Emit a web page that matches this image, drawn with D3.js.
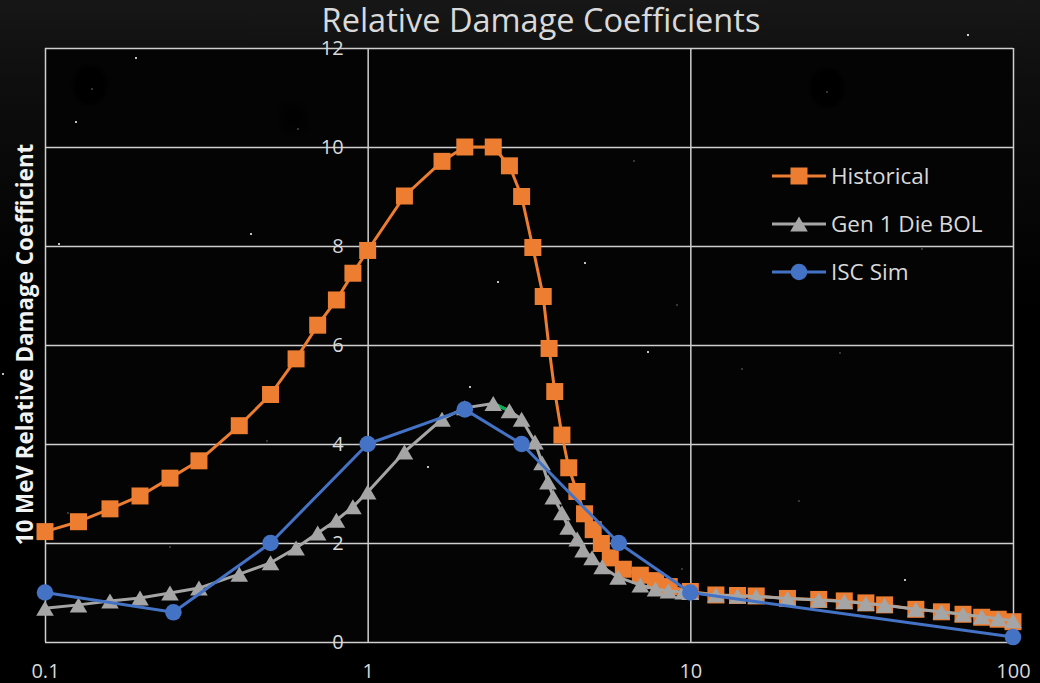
<!DOCTYPE html>
<html>
<head>
<meta charset="utf-8">
<script src="https://cdn.jsdelivr.net/npm/d3@7"></script>
<style>
  html, body { margin: 0; padding: 0; background: #000; }
  svg { display: block; }
</style>
</head>
<body>
<svg id="chart" width="1040" height="683"></svg>
<script>
// ---- Data -------------------------------------------------------------
const histEnergy = [0.1,0.127,0.159,0.197,0.244,0.3,0.4,0.5,0.6,0.7,0.8,0.9,1,1.3,1.7,2,2.45,2.75,3,3.25,3.5,3.65,3.8,4,4.2,4.45,4.7,5,5.3,5.65,6.2,7,7.8,8.6,10,12,14,16,20,25,30,35,40,50,60,70,80,90,100];
const histCoeff  = [2.23,2.43,2.69,2.95,3.31,3.66,4.37,5.0,5.72,6.4,6.91,7.45,7.91,9.01,9.71,10.0,10.0,9.62,9.0,7.97,6.98,5.93,5.06,4.18,3.52,3.04,2.59,2.27,1.99,1.70,1.47,1.35,1.24,1.12,1.02,0.95,0.94,0.93,0.88,0.86,0.83,0.79,0.75,0.66,0.61,0.56,0.5,0.46,0.41];

const genEnergy = [0.1,0.127,0.159,0.197,0.244,0.3,0.4,0.5,0.6,0.7,0.8,0.9,1,1.3,1.7,2,2.45,2.75,3,3.3,3.47,3.62,3.76,4,4.18,4.46,4.65,4.96,5.33,5.97,7,7.8,8.55,9.5,10,12,14,16,20,25,30,35,40,50,60,70,80,90,100];
const genCoeff  = [0.68,0.75,0.83,0.89,0.99,1.09,1.37,1.6,1.9,2.2,2.46,2.73,3.03,3.84,4.5,4.73,4.82,4.67,4.5,4.04,3.62,3.23,2.93,2.61,2.32,2.08,1.86,1.7,1.52,1.31,1.15,1.07,1.03,1.01,1.0,0.95,0.93,0.92,0.88,0.85,0.82,0.78,0.74,0.66,0.61,0.56,0.51,0.47,0.43];

const iscEnergy = [0.1,0.25,0.5,1,2,3,6,10,100];
const iscCoeff  = [1.0,0.6,2.0,4.0,4.7,4.0,2.0,1.0,0.1];

// short stretch of the Gen 1 curve drawn in green
const genHighlight = [2.45, 2.75];

const xTicks = [0.1, 1, 10, 100];
const xTickLabels = ["0.1", "1", "10", "100"];
const yTicks = [0, 2, 4, 6, 8, 10, 12];

const seriesNames = ["Historical", "Gen 1 Die BOL", "ISC Sim"];
const seriesColors = ["#ED7D31", "#A5A5A5", "#4472C4"];

const titleText = "Relative Damage Coefficients";
const yTitleText = "10 MeV Relative Damage Coefficient";

// ---- Layout -----------------------------------------------------------
const W = 1040, H = 683;
const plot = { left: 45, right: 1013, top: 48, bottom: 642 };
const FONT = "'Open Sans', 'Noto Sans', sans-serif";
const TEXT = "#d9d9d9";

const svg = d3.select("#chart");

const x = d3.scaleLog().domain([0.1, 100]).range([plot.left, plot.right]);
const y = d3.scaleLinear().domain([0, 12]).range([plot.bottom, plot.top]);

// background: dark gray at the top fading to black
const defs = svg.append("defs");
const bg = defs.append("linearGradient").attr("id", "bg")
  .attr("x1", 0).attr("y1", 0).attr("x2", 0).attr("y2", 1);
bg.append("stop").attr("offset", "0%").attr("stop-color", "#171717");
bg.append("stop").attr("offset", "12%").attr("stop-color", "#0e0e0e");
bg.append("stop").attr("offset", "45%").attr("stop-color", "#000");
bg.append("stop").attr("offset", "100%").attr("stop-color", "#000");
defs.append("filter").attr("id", "soft")
  .append("feGaussianBlur").attr("stdDeviation", 2);

svg.append("rect").attr("width", W).attr("height", H).attr("fill", "url(#bg)");
svg.append("rect")
  .attr("x", plot.left).attr("y", plot.top)
  .attr("width", plot.right - plot.left).attr("height", plot.bottom - plot.top)
  .attr("fill", "#040404");

// faint dark blotches and specks in the backdrop
const blotches = [[90, 85, 17, 20], [827, 88, 17, 20], [294, 118, 13, 15]];
svg.append("g").selectAll("ellipse").data(blotches).join("ellipse")
  .attr("cx", d => d[0]).attr("cy", d => d[1])
  .attr("rx", d => d[2]).attr("ry", d => d[3])
  .attr("fill", "#000").attr("opacity", (d, i) => i === 2 ? 0.5 : 1)
  .attr("filter", "url(#soft)");

const specks = [
  [136,58,1,"#fff"],[76,122,1,"#fff"],[59,244,1,"#fff"],[251,234,1,"#fff"],[498,282,1,"#fff"],
  [92,89,0.8,"#777"],[298,129,0.8,"#777"],[968,35,1.1,"#fff"],[634,161,0.8,"#777"],
  [585,263,1,"#fff"],[677,305,0.8,"#777"],[922,249,0.8,"#777"],[827,92,0.8,"#777"],
  [3,374,1,"#fff"],[470,387,1,"#fff"],[428,467,1,"#fff"],[267,441,0.8,"#777"],
  [68,513,0.8,"#777"],[170,547,0.8,"#777"],[648,352,1,"#fff"],[840,353,0.8,"#777"],
  [742,369,0.8,"#777"],[799,501,0.8,"#777"],[905,580,1,"#fff"],[682,569,0.8,"#777"]
];
svg.append("g").selectAll("circle").data(specks).join("circle")
  .attr("cx", d => d[0]).attr("cy", d => d[1]).attr("r", d => d[2]).attr("fill", d => d[3]);

// ---- Grid -------------------------------------------------------------
const gridColor = "#cfcfcf";
const gx = svg.append("g")
  .attr("transform", `translate(0,${plot.bottom})`)
  .call(d3.axisBottom(x).tickValues(xTicks).tickSize(-(plot.bottom - plot.top)).tickFormat(""));
const gy = svg.append("g")
  .attr("transform", `translate(${plot.left},0)`)
  .call(d3.axisLeft(y).tickValues(yTicks).tickSize(-(plot.right - plot.left)).tickFormat(""));
[gx, gy].forEach(g => {
  g.select(".domain").remove();
  g.selectAll("line").attr("stroke", gridColor).attr("stroke-width", 1.5);
});

// ---- Axis labels ------------------------------------------------------
const yLab = svg.append("g")
  .attr("transform", `translate(${x(1)},0)`)
  .call(d3.axisLeft(y).tickValues(yTicks).tickSize(0).tickPadding(24).tickFormat(d3.format("d")));
yLab.select(".domain").remove();
yLab.selectAll("text")
  .attr("fill", TEXT).attr("font-family", FONT).attr("font-size", 20).attr("dy", "0.34em");

const xLab = svg.append("g")
  .attr("transform", `translate(0,${plot.bottom})`)
  .call(d3.axisBottom(x).tickValues(xTicks).tickSize(0)
    .tickFormat((d, i) => xTickLabels[i]));
xLab.select(".domain").remove();
xLab.selectAll("text")
  .attr("fill", TEXT).attr("font-family", FONT).attr("font-size", 20)
  .attr("y", 36).attr("dy", 0);

svg.append("text")
  .attr("x", 541).attr("y", 32)
  .attr("text-anchor", "middle")
  .attr("fill", TEXT).attr("font-family", FONT).attr("font-size", 32.5)
  .text(titleText);

svg.append("text")
  .attr("transform", `translate(33,${(143 + 546) / 2}) rotate(-90)`)
  .attr("text-anchor", "middle")
  .attr("fill", "#f2f2f2").attr("font-family", FONT).attr("font-weight", "bold").attr("font-size", 22.4)
  .text(yTitleText);

// ---- Series -----------------------------------------------------------
const line = d3.line().x(d => x(d[0])).y(d => y(d[1]));

function markerPath(kind) {
  if (kind === 0) return "M-8.5,-8.5H8.5V8.5H-8.5Z";            // square
  if (kind === 1) return "M0,-7.5L8.8,7.5H-8.8Z";               // triangle
  return d3.symbol(d3.symbolCircle, Math.PI * 8.3 * 8.3)();      // circle
}

const series = [
  d3.zip(histEnergy, histCoeff),
  d3.zip(genEnergy, genCoeff),
  d3.zip(iscEnergy, iscCoeff)
];

series.forEach((pts, i) => {
  const g = svg.append("g");
  g.append("path").datum(pts)
    .attr("d", line)
    .attr("fill", "none")
    .attr("stroke", seriesColors[i])
    .attr("stroke-width", 3)
    .attr("stroke-linejoin", "round");
  if (i === 1) {
    g.append("path")
      .datum(pts.filter(p => p[0] >= genHighlight[0] && p[0] <= genHighlight[1]))
      .attr("d", line)
      .attr("fill", "none").attr("stroke", "#00B050").attr("stroke-width", 3);
  }
  g.selectAll("path.mk").data(pts).join("path")
    .attr("class", "mk")
    .attr("transform", d => `translate(${x(d[0])},${y(d[1])})`)
    .attr("d", markerPath(i))
    .attr("fill", seriesColors[i]);
});

// ---- Legend -----------------------------------------------------------
const legend = svg.append("g").attr("transform", "translate(772,176)");
const rows = legend.selectAll("g").data(seriesNames).join("g")
  .attr("transform", (d, i) => `translate(0,${i * 48})`);
rows.append("line")
  .attr("x1", 0).attr("x2", 54).attr("y1", 0).attr("y2", 0)
  .attr("stroke", (d, i) => seriesColors[i]).attr("stroke-width", 3);
rows.append("path")
  .attr("transform", "translate(27,0)")
  .attr("d", (d, i) => markerPath(i))
  .attr("fill", (d, i) => seriesColors[i]);
rows.append("text")
  .attr("x", 59).attr("y", 8)
  .attr("fill", TEXT).attr("font-family", FONT).attr("font-size", 22.5)
  .text(d => d);
</script>
</body>
</html>
